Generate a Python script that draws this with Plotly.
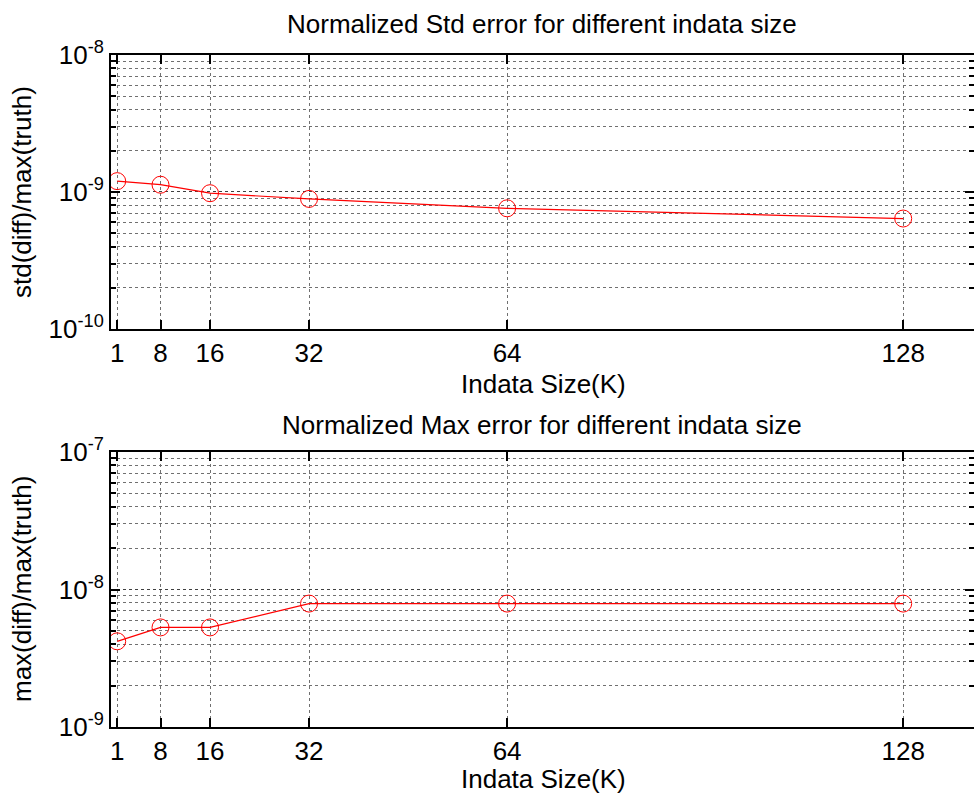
import plotly.graph_objects as go

# ---- data ----
sizes_k = [1, 8, 16, 32, 64, 128]
std_err = [1.20e-9, 1.13e-9, 0.98e-9, 0.89e-9, 0.76e-9, 0.64e-9]
max_err = [4.2e-9, 5.3e-9, 5.3e-9, 7.9e-9, 7.9e-9, 7.9e-9]
x_tick_labels = ["1", "8", "16", "32", "64", "128"]
top_y_ticks = [1e-10, 1e-9, 1e-8]
top_y_labels = ["10<sup>-10</sup>", "10<sup>-9</sup>", "10<sup>-8</sup>"]
bot_y_ticks = [1e-9, 1e-8, 1e-7]
bot_y_labels = ["10<sup>-9</sup>", "10<sup>-8</sup>", "10<sup>-7</sup>"]
top_title = "Normalized Std error for different indata size"
bot_title = "Normalized Max error for different indata size"
x_label = "Indata Size(K)"
top_ylabel = "std(diff)/max(truth)"
bot_ylabel = "max(diff)/max(truth)"

W, H = 974, 796
FONT = "Liberation Sans, Arial, sans-serif"
TICKFONT = dict(family=FONT, size=26, color="black")
LABEL_SIZE = 26
GRID = "#707070"

fig = go.Figure()
marker = dict(symbol="circle-open", size=17, color="red", line=dict(width=1, color="red"))
fig.add_trace(go.Scatter(x=sizes_k, y=std_err, mode="lines+markers",
                         line=dict(color="red", width=1.2), marker=marker,
                         xaxis="x", yaxis="y", showlegend=False))
fig.add_trace(go.Scatter(x=sizes_k, y=max_err, mode="lines+markers",
                         line=dict(color="red", width=1.2), marker=marker,
                         xaxis="x2", yaxis="y2", showlegend=False))
# invisible traces for right-side tick axes
fig.add_trace(go.Scatter(x=[sizes_k[0]], y=[std_err[0]], mode="markers",
                         marker=dict(opacity=0), xaxis="x", yaxis="y3",
                         showlegend=False, hoverinfo="skip"))
fig.add_trace(go.Scatter(x=[sizes_k[0]], y=[max_err[0]], mode="markers",
                         marker=dict(opacity=0), xaxis="x2", yaxis="y4",
                         showlegend=False, hoverinfo="skip"))

xr = [0, 139.44]
top_dom = [0.5923, 1.0]
bot_dom = [0.0, 0.4092]

def xaxis(anchor):
    return dict(domain=[0, 1], range=xr, anchor=anchor,
                tickmode="array", tickvals=sizes_k, ticktext=x_tick_labels,
                ticks="inside", ticklen=9, tickwidth=1.5, tickcolor="black",
                showline=True, linewidth=2, linecolor="black", mirror="ticks",
                showgrid=True, gridcolor=GRID, griddash="dot", gridwidth=1,
                zeroline=False, tickfont=TICKFONT)

def yaxis(dom, rng, tv, tt, anchor):
    return dict(domain=dom, type="log", range=rng, anchor=anchor,
                tickmode="array", tickvals=tv, ticktext=tt,
                ticks="inside", ticklen=9, tickwidth=2, tickcolor="black",
                showline=True, linewidth=2, linecolor="black",
                showgrid=True, gridcolor="#404040", griddash="dot", gridwidth=1,
                zeroline=False, tickfont=TICKFONT,
                minor=dict(ticks="inside", ticklen=5, tickwidth=2, tickcolor="black",
                           showgrid=True, gridcolor=GRID, griddash="dot", gridwidth=1,
                           dtick="D1"))

def yright(dom, rng, tv, over):
    return dict(domain=dom, type="log", range=rng, overlaying=over, side="right",
                anchor="free", position=1.0,
                tickmode="array", tickvals=tv, showticklabels=False,
                ticks="inside", ticklen=9, tickwidth=2, tickcolor="black",
                showline=False, showgrid=False, zeroline=False,
                minor=dict(ticks="inside", ticklen=5, tickwidth=2, tickcolor="black",
                           showgrid=False, dtick="D1"))

fig.update_layout(
    width=W, height=H,
    margin=dict(l=111, r=0, t=55, b=69),
    paper_bgcolor="white", plot_bgcolor="white",
    font=dict(family=FONT, color="black"),
    xaxis=xaxis("y"),
    xaxis2=xaxis("y2"),
    yaxis=yaxis(top_dom, [-10, -8], top_y_ticks, top_y_labels, "x"),
    yaxis2=yaxis(bot_dom, [-9, -7], bot_y_ticks, bot_y_labels, "x2"),
    yaxis3=yright(top_dom, [-10, -8], top_y_ticks, "y"),
    yaxis4=yright(bot_dom, [-9, -7], bot_y_ticks, "y2"),
)

def px_to_paper_y(py):
    return (H - 69 - py) / (H - 55 - 69)

def px_to_paper_x(px):
    return (px - 111) / (W - 111)

ann = [
    (top_title, 542, 24, 0),
    (x_label, 543, 384, 0),
    (bot_title, 542, 425, 0),
    (x_label, 543, 779, 0),
    (top_ylabel, 22, 192, -90),
    (bot_ylabel, 22, 589, -90),
]
for text, px, py, ang in ann:
    fig.add_annotation(text=text, xref="paper", yref="paper",
                       x=px_to_paper_x(px), y=px_to_paper_y(py),
                       xanchor="center", yanchor="middle", showarrow=False,
                       textangle=ang, font=dict(family=FONT, size=LABEL_SIZE, color="black"))

fig.write_html("out.html")
